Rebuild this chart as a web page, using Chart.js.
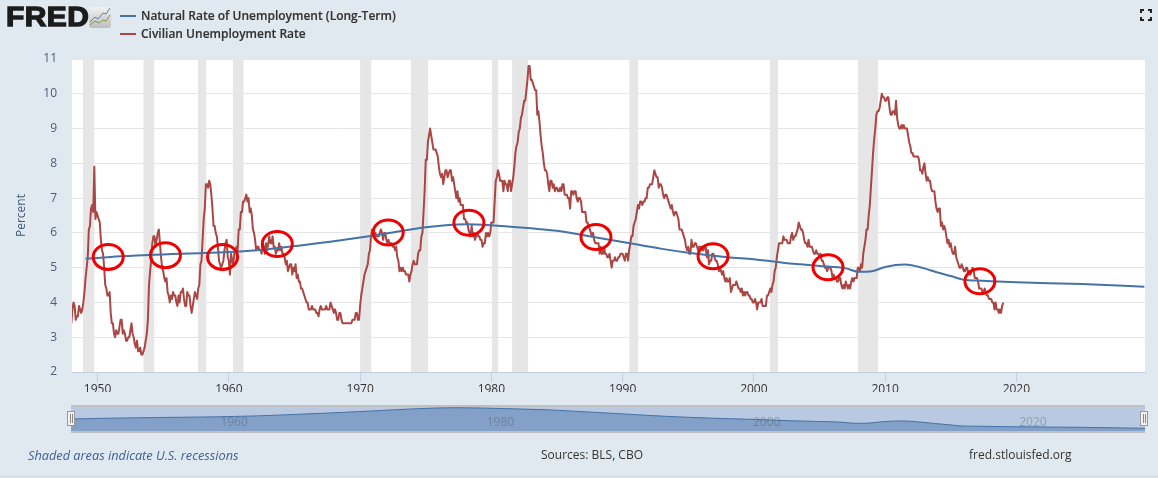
<!DOCTYPE html>
<html>
<head>
<meta charset="utf-8">
<script src="https://cdn.jsdelivr.net/npm/chart.js@4/dist/chart.umd.min.js"></script>
<style>
html,body{margin:0;padding:0;background:#e1e9f0;overflow:hidden}
#wrap{position:relative;width:1158px;height:478px;background:#e1e9f0;font-family:"Open Sans",sans-serif;overflow:hidden}
#main{position:absolute;left:0;top:0}
#nav{position:absolute;left:0;top:400px}
.t{position:absolute;white-space:nowrap}
.leg{font-size:12px;font-weight:600;color:#333;left:141px;line-height:16px;-webkit-text-stroke:.15px #333}
.sw{position:absolute;left:120px;width:16px;height:2px}
.foot{font-size:12px;top:446px;line-height:18px;color:#333}
.logo{left:6px;top:0;font-family:"Liberation Sans",sans-serif;font-weight:700;font-size:27px;line-height:35px;color:#1c1c1c;-webkit-text-stroke:1.3px #1c1c1c;letter-spacing:.4px;transform-origin:0 50%;transform:scaleX(1.11)}
.h{position:absolute;top:411px;width:6px;height:13px;background:#f2f2f2;border:1px solid #999;border-width:1.5px}
.h i{position:absolute;top:2px;width:1px;height:9px;background:#888}
#edge{position:absolute;left:0;top:476px;width:1158px;height:1px;background:#ccd6e0}
</style>
</head>
<body>
<div id="wrap">
<canvas id="main" width="1158" height="478"></canvas>
<canvas id="nav" width="1158" height="50"></canvas>
<div class="t logo">FRED</div>
<svg style="position:absolute;left:89px;top:7px" width="22" height="21">
<defs><linearGradient id="g" x1="0" y1="0" x2="0" y2="1"><stop offset="0" stop-color="#f2f2f2"/><stop offset="1" stop-color="#bdbdbd"/></linearGradient></defs>
<rect x="0" y="0" width="22" height="21" rx="3" fill="url(#g)"/>
<polyline points="1,15 6,10 9,12 14,6 17,7 21,1" fill="none" stroke="#5b7fae" stroke-width="1"/>
<polyline points="1,18 6,14 10,16 14,13 17,14 21,8" fill="none" stroke="#7f9c3e" stroke-width="1"/>
</svg>
<div class="sw" style="top:15px;background:#4572a7"></div>
<div class="t leg" style="top:8px">Natural Rate of Unemployment (Long-Term)</div>
<div class="sw" style="top:33px;background:#aa4643"></div>
<div class="t leg" style="top:26px">Civilian Unemployment Rate</div>
<svg style="position:absolute;left:1140px;top:9px" width="12" height="12" fill="none" stroke="#222" stroke-width="2">
<path d="M1 4V1H4M8 1H11V4M11 8V11H8M4 11H1V8"/>
</svg>
<div class="t foot" style="left:28px;font-style:italic;color:#3f5f94;font-size:12.75px">Shaded areas indicate U.S. recessions</div>
<div class="t foot" style="left:541px">Sources: BLS, CBO</div>
<div class="t foot" style="left:969px">fred.stlouisfed.org</div>
<div class="h" style="left:67px"><i style="left:1.5px"></i><i style="left:3.5px"></i></div>
<div class="h" style="left:1140px"><i style="left:1.5px"></i><i style="left:3.5px"></i></div>
<div id="edge"></div>
</div>
<script>
const startYear = 1948;
// Civilian Unemployment Rate, monthly from Jan 1948
const civilianRate = [
3.4,3.8,4.0,3.9,3.5,3.6,3.6,3.9,3.8,3.7,3.8,4.0,
4.3,4.7,5.0,5.3,6.1,6.2,6.7,6.8,6.6,7.9,6.4,6.6,
6.5,6.4,6.3,5.8,5.5,5.4,5.0,4.5,4.4,4.2,4.2,4.3,
3.7,3.4,3.4,3.1,3.0,3.2,3.1,3.1,3.3,3.5,3.5,3.1,
3.2,3.1,2.9,2.9,3.0,3.0,3.2,3.4,3.1,3.0,2.8,2.7,
2.9,2.6,2.6,2.7,2.5,2.5,2.6,2.7,2.9,3.1,3.5,4.5,
4.9,5.2,5.7,5.9,5.9,5.6,5.8,6.0,6.1,5.7,5.3,5.0,
4.9,4.7,4.6,4.7,4.3,4.2,4.0,4.2,4.1,4.3,4.2,4.2,
4.0,3.9,4.2,4.0,4.3,4.3,4.4,4.1,3.9,3.9,4.3,4.2,
4.2,3.9,3.7,3.9,4.1,4.3,4.2,4.1,4.4,4.5,5.1,5.2,
5.8,6.4,6.7,7.4,7.4,7.3,7.5,7.4,7.1,6.7,6.2,6.2,
6.0,5.9,5.6,5.2,5.1,5.0,5.1,5.2,5.5,5.7,5.8,5.3,
5.2,4.8,5.4,5.2,5.1,5.4,5.5,5.6,5.5,6.1,6.1,6.6,
6.6,6.9,6.9,7.0,7.1,6.9,7.0,6.6,6.7,6.5,6.1,6.0,
5.8,5.5,5.6,5.6,5.5,5.5,5.4,5.7,5.6,5.4,5.7,5.5,
5.7,5.9,5.7,5.7,5.9,5.6,5.6,5.4,5.5,5.5,5.7,5.5,
5.6,5.4,5.4,5.3,5.1,5.2,4.9,5.0,5.1,5.1,4.8,5.0,
4.9,5.1,4.7,4.8,4.6,4.6,4.4,4.4,4.3,4.2,4.1,4.0,
4.0,3.8,3.8,3.8,3.9,3.8,3.8,3.8,3.7,3.7,3.6,3.8,
3.9,3.8,3.8,3.8,3.8,3.9,3.8,3.8,3.8,4.0,3.9,3.8,
3.7,3.8,3.7,3.5,3.5,3.7,3.7,3.5,3.4,3.4,3.4,3.4,
3.4,3.4,3.4,3.4,3.4,3.5,3.5,3.5,3.7,3.7,3.5,3.5,
3.9,4.2,4.4,4.6,4.8,4.9,5.0,5.1,5.4,5.5,5.9,6.1,
5.9,5.9,6.0,5.9,5.9,5.9,6.0,6.1,6.0,5.8,6.0,6.0,
5.8,5.7,5.8,5.7,5.7,5.7,5.6,5.6,5.5,5.6,5.3,5.2,
4.9,5.0,4.9,5.0,4.9,4.9,4.8,4.8,4.8,4.6,4.8,4.9,
5.1,5.2,5.1,5.1,5.1,5.4,5.5,5.5,5.9,6.0,6.6,7.2,
8.1,8.1,8.6,8.8,9.0,8.8,8.6,8.4,8.4,8.4,8.3,8.2,
7.9,7.7,7.6,7.7,7.4,7.6,7.8,7.8,7.6,7.7,7.8,7.8,
7.5,7.6,7.4,7.2,7.0,7.2,6.9,7.0,6.8,6.8,6.8,6.4,
6.4,6.3,6.3,6.1,6.0,5.9,6.2,5.9,6.0,5.8,5.9,6.0,
5.9,5.9,5.8,5.8,5.6,5.7,5.7,6.0,5.9,6.0,5.9,6.0,
6.3,6.3,6.3,6.9,7.5,7.6,7.8,7.7,7.5,7.5,7.5,7.2,
7.5,7.4,7.4,7.2,7.5,7.5,7.2,7.4,7.6,7.9,8.3,8.5,
8.6,8.9,9.0,9.3,9.4,9.6,9.8,9.8,10.1,10.4,10.8,10.8,
10.4,10.4,10.3,10.2,10.1,10.1,9.4,9.5,9.2,8.8,8.5,8.3,
8.0,7.8,7.8,7.7,7.4,7.2,7.5,7.5,7.3,7.4,7.2,7.3,
7.3,7.2,7.2,7.3,7.2,7.4,7.4,7.1,7.1,7.1,7.0,7.0,
6.7,7.2,7.2,7.1,7.2,7.2,7.0,6.9,7.0,7.0,6.9,6.6,
6.6,6.6,6.6,6.3,6.3,6.2,6.1,6.0,5.9,6.0,5.8,5.7,
5.7,5.7,5.7,5.4,5.6,5.4,5.4,5.6,5.4,5.4,5.3,5.3,
5.4,5.2,5.0,5.2,5.2,5.3,5.2,5.2,5.3,5.3,5.4,5.4,
5.4,5.3,5.2,5.4,5.4,5.2,5.5,5.7,5.9,5.9,6.2,6.3,
6.4,6.6,6.8,6.7,6.9,6.9,6.8,6.9,6.9,7.0,7.0,7.3,
7.3,7.4,7.4,7.4,7.6,7.8,7.7,7.6,7.6,7.3,7.4,7.4,
7.3,7.1,7.0,7.1,7.1,7.0,6.9,6.8,6.7,6.8,6.6,6.5,
6.6,6.6,6.5,6.4,6.1,6.1,6.1,6.0,5.9,5.8,5.6,5.5,
5.6,5.4,5.4,5.8,5.6,5.6,5.7,5.7,5.6,5.5,5.6,5.6,
5.6,5.5,5.5,5.6,5.6,5.3,5.5,5.1,5.2,5.2,5.4,5.4,
5.3,5.2,5.2,5.1,4.9,5.0,4.9,4.8,4.9,4.7,4.6,4.7,
4.6,4.6,4.7,4.3,4.4,4.5,4.5,4.5,4.6,4.5,4.4,4.4,
4.3,4.4,4.2,4.3,4.2,4.3,4.3,4.2,4.2,4.1,4.1,4.0,
4.0,4.1,4.0,3.8,4.0,4.0,4.0,4.1,3.9,3.9,3.9,3.9,
4.2,4.2,4.3,4.4,4.3,4.5,4.6,4.9,5.0,5.3,5.5,5.7,
5.7,5.7,5.7,5.9,5.8,5.8,5.8,5.7,5.7,5.7,5.9,6.0,
5.8,5.9,5.9,6.0,6.1,6.3,6.2,6.1,6.1,6.0,5.8,5.7,
5.7,5.6,5.8,5.6,5.6,5.6,5.5,5.4,5.4,5.5,5.4,5.4,
5.3,5.4,5.2,5.2,5.1,5.0,5.0,4.9,5.0,5.0,5.0,4.9,
4.7,4.8,4.7,4.7,4.6,4.6,4.7,4.7,4.5,4.4,4.5,4.4,
4.6,4.5,4.4,4.5,4.4,4.6,4.7,4.6,4.7,4.7,4.7,5.0,
5.0,4.9,5.1,5.0,5.4,5.6,5.8,6.1,6.1,6.5,6.8,7.3,
7.8,8.3,8.7,9.0,9.4,9.5,9.5,9.6,9.8,10.0,9.9,9.9,
9.8,9.8,9.9,9.9,9.6,9.4,9.4,9.5,9.5,9.4,9.8,9.3,
9.1,9.0,9.0,9.1,9.0,9.1,9.0,9.0,9.0,8.8,8.6,8.5,
8.3,8.3,8.2,8.2,8.2,8.2,8.2,8.1,7.8,7.8,7.7,7.9,
8.0,7.7,7.5,7.6,7.5,7.5,7.3,7.2,7.2,7.2,6.9,6.7,
6.6,6.7,6.7,6.2,6.3,6.1,6.2,6.1,5.9,5.7,5.8,5.6,
5.7,5.5,5.4,5.4,5.6,5.3,5.2,5.1,5.0,5.0,5.1,5.0,
4.9,4.9,5.0,5.0,4.8,4.9,4.8,4.9,5.0,4.9,4.7,4.7,
4.7,4.6,4.4,4.4,4.4,4.3,4.3,4.4,4.3,4.2,4.2,4.1,
4.1,4.1,4.0,4.0,3.8,4.0,3.8,3.8,3.7,3.8,3.7,3.9,
4.0];
// Natural rate
const naturalYears = [1949.08,1950,1951,1953,1955,1957,1960,1963,1965,1968,1970,1972,1975,1978,1980,1983,1985,1988,1990,1993,1995,1998,2000,2003,2005,2007,2008,2009,2010,2011.5,2013,2014,2015,2016,2017,2020,2025,2029.75];
const naturalRate = [5.26,5.28,5.31,5.35,5.38,5.41,5.45,5.53,5.62,5.76,5.87,5.98,6.16,6.25,6.22,6.13,6.06,5.87,5.74,5.54,5.43,5.30,5.24,5.11,5.05,4.98,4.88,4.90,5.02,5.09,4.98,4.86,4.76,4.65,4.63,4.58,4.53,4.45];
const recessionStart = [1948.89,1953.5,1957.65,1960.31,1970.0,1973.87,1980.04,1981.58,1990.52,2001.23,2007.94];
const recessionEnd   = [1949.75,1954.32,1958.28,1961.12,1970.85,1975.19,1980.52,1982.8,1991.18,2001.84,2009.46];
const yTicks = [2,3,4,5,6,7,8,9,10,11];
const xTicks = [1950,1960,1970,1980,1990,2000,2010,2020];
const navTicks = [1960,1980,2000,2020];
const circleYears  = [1950.81,1955.17,1959.52,1963.69,1972.14,1978.29,1987.97,1996.89,2005.65,2017.22];
const circleValues = [5.31,5.36,5.31,5.68,6.01,6.29,5.88,5.33,5.01,4.61];

const civilianPts = civilianRate.map((v,i)=>({x:startYear+i/12,y:v}));
const naturalPts = naturalRate.map((v,i)=>({x:naturalYears[i],y:v}));

const recessions = {id:'recessions',beforeDatasetsDraw(c){
  const {ctx,chartArea:a,scales:{x}}=c;ctx.save();ctx.fillStyle='#e6e6e6';
  recessionStart.forEach((s,i)=>{const l=x.getPixelForValue(s),r=x.getPixelForValue(recessionEnd[i]);ctx.fillRect(l,a.top,r-l,a.bottom-a.top);});
  ctx.restore();}};
const plotBg = {id:'plotBg',beforeDraw(c){const {ctx,chartArea:a}=c;ctx.save();ctx.fillStyle='#fff';ctx.fillRect(a.left,a.top,a.right-a.left,a.bottom-a.top);ctx.restore();}};
const circles = {id:'circles',afterDatasetsDraw(c){
  const {ctx,scales:{x,y}}=c;ctx.save();ctx.strokeStyle='#f00000';ctx.lineWidth=3;
  circleYears.forEach((yr,i)=>{ctx.beginPath();ctx.ellipse(x.getPixelForValue(yr),y.getPixelForValue(circleValues[i]),15,12.5,0,0,Math.PI*2);ctx.stroke();});
  ctx.restore();}};

new Chart(document.getElementById('main'),{
  type:'line',
  data:{datasets:[
    {label:'Natural Rate of Unemployment (Long-Term)',data:naturalPts,borderColor:'#4572a7',borderWidth:2,pointRadius:0,cubicInterpolationMode:'monotone',order:1},
    {label:'Civilian Unemployment Rate',data:civilianPts,borderColor:'#aa4643',borderWidth:2,borderJoinStyle:'round',pointRadius:0,tension:0,order:2}
  ]},
  plugins:[plotBg,recessions,circles],
  options:{
    responsive:false,animation:false,
    layout:{padding:{top:59,right:13,bottom:86,left:0}},
    plugins:{legend:{display:false},tooltip:{enabled:false}},
    scales:{
      x:{type:'linear',min:1948.05,max:2029.8,
        afterBuildTicks(s){s.ticks=xTicks.map(v=>({value:v}));},
        afterFit(s){s.height=20;},
        grid:{drawOnChartArea:false,drawTicks:true,tickLength:10,color:'#c0d0e0'},
        border:{color:'#c0d0e0',width:1},
        ticks:{maxRotation:0,autoSkip:false,color:'#333',padding:0,font:{family:'"Open Sans"',size:12},callback:v=>String(v)}},
      y:{min:2,max:11,
        afterBuildTicks(s){s.ticks=yTicks.map(v=>({value:v}));},
        afterFit(s){s.width=72;},
        title:{display:true,text:'Percent',color:'#3f5a7a',padding:{top:14,bottom:0},font:{family:'"Open Sans"',size:12}},
        grid:{color:'#e6e6e6',drawTicks:false,lineWidth:1},
        border:{display:false},
        ticks:{color:'#4a5d78',padding:15,font:{family:'"Open Sans"',size:12},callback:v=>String(v)}}
    }
  }
});

const navBg = {id:'navBg',beforeDraw(c){const {ctx,chartArea:a}=c;ctx.save();ctx.fillStyle='#b9c9e1';ctx.fillRect(a.left,a.top,a.right-a.left,a.bottom-a.top);ctx.restore();},
  afterDraw(c){const {ctx,chartArea:a,scales:{x}}=c;ctx.save();ctx.strokeStyle='#c0c0c0';ctx.lineWidth=2;
    ctx.beginPath();ctx.moveTo(a.left,a.top);ctx.lineTo(a.right,a.top);ctx.moveTo(a.left,a.bottom);ctx.lineTo(a.right,a.bottom);ctx.stroke();
    ctx.font='12px "Open Sans"';ctx.fillStyle='rgba(60,60,60,.3)';ctx.textBaseline='middle';
    navTicks.forEach(t=>ctx.fillText(String(t),x.getPixelForValue(t)+4,a.top+17));ctx.restore();}};
new Chart(document.getElementById('nav'),{
  type:'line',
  data:{datasets:[{label:'Natural Rate of Unemployment (Long-Term)',data:naturalPts,borderColor:'#4572a7',borderWidth:1,backgroundColor:'#83a0c8',fill:'start',pointRadius:0,cubicInterpolationMode:'monotone'}]},
  plugins:[navBg],
  options:{
    responsive:false,animation:false,
    layout:{padding:{left:71,right:13,top:6,bottom:18}},
    plugins:{legend:{display:false},tooltip:{enabled:false}},
    scales:{x:{type:'linear',display:false,min:1949.08,max:2029.75},y:{display:false,min:4.12,max:6.4}}
  }
});
</script>
</body>
</html>
